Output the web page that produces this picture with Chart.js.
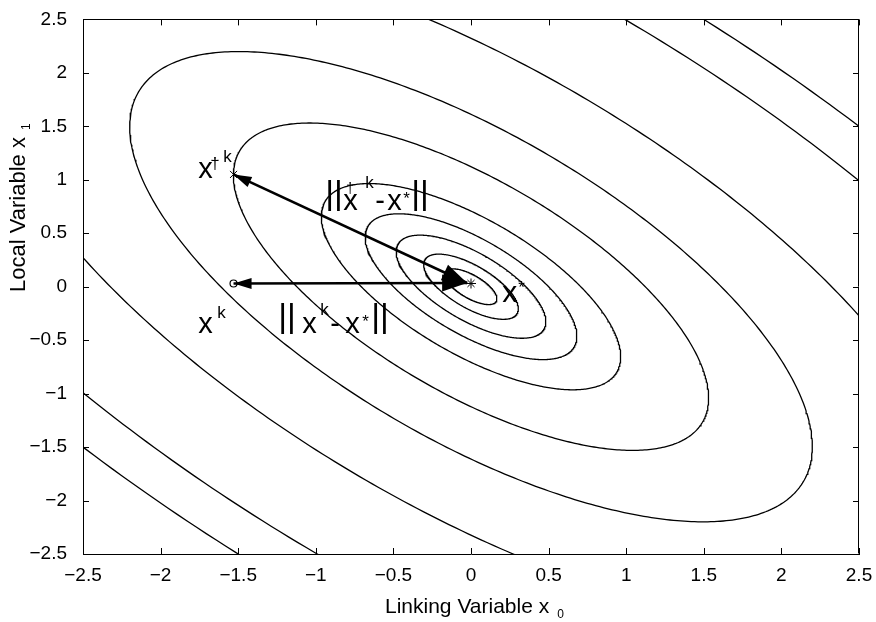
<!DOCTYPE html>
<html>
<head>
<meta charset="utf-8">
<title>Contour plot</title>
<script src="https://cdn.jsdelivr.net/npm/chart.js@4.4.1/dist/chart.umd.min.js"></script>
<style>
  html, body { margin: 0; padding: 0; background: #fff; }
  #wrap { width: 876px; height: 622px; }
</style>
</head>
<body>
<div id="wrap"><canvas id="contourChart" width="876" height="622"></canvas></div>
<script>
// tick labels, both axes run -2.5 .. 2.5
const xTicks = [-2.5, -2, -1.5, -1, -0.5, 0, 0.5, 1, 1.5, 2, 2.5];
const yTicks = [-2.5, -2, -1.5, -1, -0.5, 0, 0.5, 1, 1.5, 2, 2.5];

// contour levels of f = a*x0^2 + 2*b*x0*x1 + c*x1^2
const contourLevels = [0.015, 0.05, 0.125, 0.25, 0.5, 1.26, 2.6, 5.4, 10.6, 13.6];
const quadCoef = [1.0, 0.68, 1.0];
const contourCenter = [0.0, 0.0];

// marked points
const xStar = [0.0, 0.03];
const xDagger = [-1.53, 1.05];
const xK = [-1.53, 0.03];
const arrowTip = [-0.025, 0.035];

const FONT = '"Liberation Sans", Arial, Helvetica, sans-serif';

// outline of one level set (ellipse) in data coords
function contourPoints(level) {
    const [a, b, c] = quadCoef;
    const tr = a + c, det = a * c - b * b;
    const disc = Math.sqrt(tr * tr / 4 - det);
    const l1 = tr / 2 + disc, l2 = tr / 2 - disc;
    const ang = 0.5 * Math.atan2(2 * b, a - c);
    const r1 = Math.sqrt(level / l1), r2 = Math.sqrt(level / l2);
    const pts = [];
    const n = 480;
    for (let i = 0; i <= n; i++) {
        const t = i / n * 2 * Math.PI;
        const u = r1 * Math.cos(t), v = r2 * Math.sin(t);
        pts.push({
            x: contourCenter[0] + u * Math.cos(ang) - v * Math.sin(ang),
            y: contourCenter[1] + u * Math.sin(ang) + v * Math.cos(ang)
        });
    }
    return pts;
}

const datasets = contourLevels.map(lv => ({
    label: 'f = ' + lv,
    data: contourPoints(lv),
    showLine: true,
    borderColor: '#000',
    borderWidth: 1.3,
    pointRadius: 0,
    tension: 0
}));

// arrow shafts
[xDagger, xK].forEach((p, i) => {
    datasets.push({
        label: 'arrow' + i,
        data: [{ x: p[0], y: p[1] }, { x: arrowTip[0], y: arrowTip[1] }],
        showLine: true,
        borderColor: '#000',
        borderWidth: 2.6,
        pointRadius: 0
    });
});

// markers
datasets.push({ label: 'x*', data: [{ x: xStar[0], y: xStar[1] }], pointStyle: 'star', pointRadius: 5, borderColor: '#000', borderWidth: 1, backgroundColor: '#000' });
datasets.push({ label: 'x dagger', data: [{ x: xDagger[0], y: xDagger[1] }], pointStyle: 'crossRot', pointRadius: 5, borderColor: '#000', borderWidth: 1 });
datasets.push({ label: 'x k', data: [{ x: xK[0], y: xK[1] }], pointStyle: 'circle', pointRadius: 3.5, borderColor: '#000', backgroundColor: '#fff', borderWidth: 1.2 });

const fmt = v => String(v).replace('-', '\u2212');

// text labels: anchor in data coords, pieces offset in px
const annotations = [
    { at: [-1.757, 1.016], pieces: [
        { t: 'x', s: 29, dx: 0, dy: 0 },
        { t: '\u2020', s: 17, dx: 12, dy: -9 },
        { t: 'k', s: 17, dx: 25, dy: -16 } ] },
    { at: [-0.926, 0.72], pieces: [
        { t: '||', s: 34, dx: -2, dy: -6 },
        { t: 'x', s: 29, dx: 16, dy: 0 },
        { t: '\u2020', s: 14, dx: 19, dy: -17 },
        { t: 'k', s: 17, dx: 38, dy: -22 },
        { t: '-', s: 29, dx: 48, dy: 0 },
        { t: 'x', s: 29, dx: 60, dy: 0 },
        { t: '*', s: 17, dx: 76, dy: -6 },
        { t: '||', s: 34, dx: 84, dy: -6 } ] },
    { at: [-1.757, -0.434], pieces: [
        { t: 'x', s: 29, dx: 0, dy: 0 },
        { t: 'k', s: 17, dx: 19, dy: -15 } ] },
    { at: [-1.229, -0.434], pieces: [
        { t: '||', s: 34, dx: -2, dy: -6 },
        { t: 'x', s: 29, dx: 22, dy: 0 },
        { t: 'k', s: 17, dx: 40, dy: -18 },
        { t: '-', s: 29, dx: 50, dy: 0 },
        { t: 'x', s: 29, dx: 65, dy: 0 },
        { t: '*', s: 17, dx: 82, dy: -6 },
        { t: '||', s: 34, dx: 91, dy: -6 } ] },
    { at: [0.202, -0.139], pieces: [
        { t: 'x', s: 30, dx: 0, dy: 0 },
        { t: '*', s: 17, dx: 16, dy: -9 } ] }
];

function arrowHead(ctx, tip, from, len, half) {
    const ang = Math.atan2(tip.y - from.y, tip.x - from.x);
    const bx = tip.x - len * Math.cos(ang), by = tip.y - len * Math.sin(ang);
    ctx.beginPath();
    ctx.moveTo(tip.x, tip.y);
    ctx.lineTo(bx + half * Math.sin(ang), by - half * Math.cos(ang));
    ctx.lineTo(bx - half * Math.sin(ang), by + half * Math.cos(ang));
    ctx.closePath();
    ctx.fill();
}

const decorations = {
    id: 'decorations',
    afterDatasetsDraw(chart) {
        const ctx = chart.ctx;
        const xs = chart.scales.x, ys = chart.scales.y;
        const a = chart.chartArea;
        ctx.save();
        ctx.fillStyle = '#000';
        ctx.strokeStyle = '#000';

        // arrow heads on both ends
        const tip = { x: xs.getPixelForValue(arrowTip[0]), y: ys.getPixelForValue(arrowTip[1]) };
        [xDagger, xK].forEach(p => {
            const end = { x: xs.getPixelForValue(p[0]), y: ys.getPixelForValue(p[1]) };
            arrowHead(ctx, end, tip, 18, 5.5);
            arrowHead(ctx, tip, end, 25, 8.5);
        });

        // box (top + right) and inward ticks
        ctx.lineWidth = 1;
        ctx.beginPath();
        ctx.moveTo(Math.round(a.left) + 0.5, Math.round(a.top) + 0.5);
        ctx.lineTo(Math.round(a.right) - 0.5, Math.round(a.top) + 0.5);
        ctx.lineTo(Math.round(a.right) - 0.5, Math.round(a.bottom) - 0.5);
        ctx.stroke();
        ctx.beginPath();
        xTicks.forEach(v => {
            const px = Math.round(xs.getPixelForValue(v)) + 0.5;
            ctx.moveTo(px, a.bottom); ctx.lineTo(px, a.bottom - 6);
            ctx.moveTo(px, a.top); ctx.lineTo(px, a.top + 6);
        });
        yTicks.forEach(v => {
            const py = Math.round(ys.getPixelForValue(v)) + 0.5;
            ctx.moveTo(a.left, py); ctx.lineTo(a.left + 6, py);
            ctx.moveTo(a.right, py); ctx.lineTo(a.right - 6, py);
        });
        ctx.stroke();

        // math labels
        ctx.textBaseline = 'alphabetic';
        ctx.textAlign = 'left';
        annotations.forEach(an => {
            const x0 = xs.getPixelForValue(an.at[0]);
            const y0 = ys.getPixelForValue(an.at[1]);
            an.pieces.forEach(p => {
                ctx.font = p.s + 'px ' + FONT;
                ctx.fillText(p.t, x0 + p.dx, y0 + p.dy);
            });
        });

        // axis titles with subscripts
        ctx.font = '21px ' + FONT;
        const xt = 'Linking Variable x';
        const xw = ctx.measureText(xt).width;
        const xl = (a.left + a.right) / 2 - 86;
        ctx.fillText(xt, xl, 613);
        ctx.font = '12px ' + FONT;
        ctx.fillText('0', xl + xw + 8, 618);

        ctx.translate(25, 292);
        ctx.rotate(-Math.PI / 2);
        ctx.font = '22px ' + FONT;
        const yt = 'Local Variable x';
        const yw = ctx.measureText(yt).width;
        ctx.fillText(yt, 0, 0);
        ctx.font = '12px ' + FONT;
        ctx.fillText('1', yw + 7, 5);
        ctx.restore();
    }
};

const ctx = document.getElementById('contourChart').getContext('2d');
new Chart(ctx, {
    type: 'scatter',
    data: { datasets: datasets },
    options: {
        responsive: false,
        animation: false,
        devicePixelRatio: 1,
        layout: { padding: { top: 12, right: 17, left: 0, bottom: 0 } },
        plugins: { legend: { display: false }, tooltip: { enabled: false } },
        scales: {
            x: {
                type: 'linear',
                min: -2.5,
                max: 2.5,
                afterBuildTicks: s => { s.ticks = xTicks.map(v => ({ value: v })); },
                afterFit: s => { s.height = 68; },
                grid: { display: false },
                border: { display: true, color: '#000', width: 1 },
                ticks: { color: '#000', font: { family: FONT, size: 19 }, padding: 2, maxRotation: 0, callback: fmt }
            },
            y: {
                type: 'linear',
                min: -2.5,
                max: 2.5,
                afterBuildTicks: s => { s.ticks = yTicks.map(v => ({ value: v })); },
                afterFit: s => { s.width = 83; },
                grid: { display: false },
                border: { display: true, color: '#000', width: 1 },
                ticks: { color: '#000', font: { family: FONT, size: 19 }, padding: 8, callback: fmt }
            }
        }
    },
    plugins: [decorations]
});
</script>
</body>
</html>
